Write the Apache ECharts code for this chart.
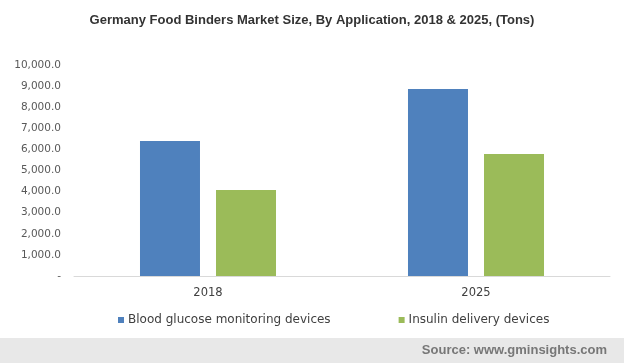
<!DOCTYPE html>
<html><head><meta charset="utf-8">
<script src="https://cdn.jsdelivr.net/npm/echarts@6/dist/echarts.min.js"></script>
<style>html,body{margin:0;padding:0;background:#fff}#c{width:624px;height:363px}</style>
</head><body><div id="c"></div>
<script>
const categories = ["2018", "2025"];
const seriesNames = ["Blood glucose monitoring devices", "Insulin delivery devices"];
const bloodGlucose = [6400, 8860];
const insulinDelivery = [4080, 5780];
const yTicks = { min: 0, max: 10000, interval: 1000 };

const chart = echarts.init(document.getElementById('c'), null, { renderer: 'canvas' });
const fmt = v => v === 0 ? '-' : v.toLocaleString('en-US', { minimumFractionDigits: 1, maximumFractionDigits: 1 });
chart.setOption({
  animation: false,
  title: {
    text: 'Germany Food Binders Market Size, By Application, 2018 & 2025, (Tons)',
    left: 'center', top: 9,
    textStyle: { fontFamily: 'Liberation Sans, Arial', fontWeight: 'bold', fontSize: 13, color: '#333' }
  },
  graphic: [
    { type: 'rect', shape: { x: 0, y: 338, width: 624, height: 25 }, style: { fill: '#e8e8e8' }, silent: true },
    { type: 'text', right: 17, top: 344, style: { text: 'Source: www.gminsights.com', font: 'bold 13px "Liberation Sans", Arial', fill: '#777' } }
  ],
  legend: {
    top: 309, left: 113,
    itemWidth: 6, itemHeight: 6, itemGap: 68, icon: 'rect',
    textStyle: { fontFamily: 'DejaVu Sans, Verdana', fontSize: 12, color: '#404040', padding: [0, 0, 0, -1] },
    data: seriesNames
  },
  grid: { left: 74, right: 14, top: 65, bottom: 87, containLabel: false },
  xAxis: {
    type: 'category', data: categories,
    axisLine: { lineStyle: { color: '#d9d9d9' } },
    axisTick: { show: false },
    axisLabel: { fontFamily: 'DejaVu Sans, Verdana', fontSize: 11.5, color: '#404040', margin: 11 }
  },
  yAxis: {
    type: 'value', min: yTicks.min, max: yTicks.max, interval: yTicks.interval,
    axisLine: { show: false }, axisTick: { show: false }, splitLine: { show: false },
    axisLabel: { formatter: fmt, fontFamily: 'DejaVu Sans, Verdana', fontSize: 10.5, color: '#595959', margin: 13 }
  },
  series: [
    { name: seriesNames[0], type: 'bar', data: bloodGlucose, barWidth: 60, barGap: '26.7%', itemStyle: { color: '#4f81bd' } },
    { name: seriesNames[1], type: 'bar', data: insulinDelivery, barWidth: 60, itemStyle: { color: '#9bbb59' } }
  ]
});
</script></body></html>
